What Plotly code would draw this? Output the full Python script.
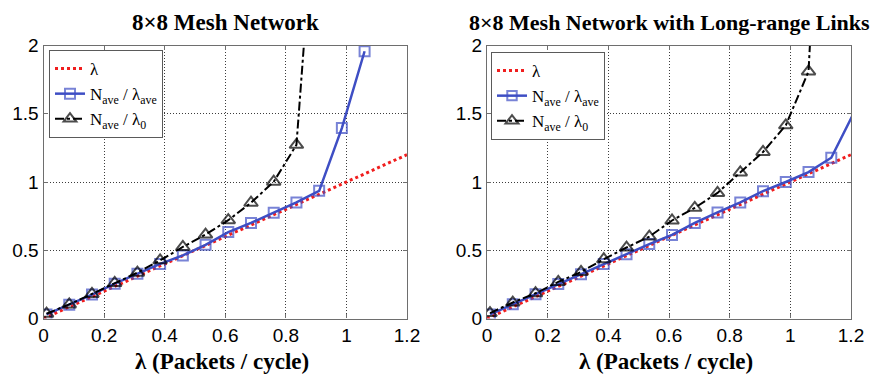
import plotly.graph_objects as go

# ---------------- data ----------------
lam_line = [0.0, 1.2]

x_left = [0.01, 0.085, 0.16, 0.235, 0.31, 0.385, 0.46, 0.535, 0.61, 0.685,
          0.76, 0.835, 0.91, 0.985, 1.06]
nave_lave_left = [0.03, 0.10, 0.175, 0.255, 0.328, 0.40, 0.462, 0.540, 0.633,
                  0.70, 0.775, 0.85, 0.935, 1.395, 1.958]
x_left_l0 = [0.01, 0.085, 0.16, 0.235, 0.31, 0.385, 0.46, 0.535, 0.61, 0.685,
             0.76, 0.835, 0.91]
nave_l0_left = [0.035, 0.103, 0.18, 0.26, 0.336, 0.426, 0.524, 0.615, 0.72,
                0.848, 1.002, 1.272, 3.5]

x_right = [0.01, 0.085, 0.16, 0.235, 0.31, 0.385, 0.46, 0.535, 0.61, 0.685,
           0.76, 0.835, 0.91, 0.985, 1.06, 1.135, 1.21]
nave_lave_right = [0.03, 0.104, 0.178, 0.252, 0.325, 0.40, 0.47, 0.545, 0.612,
                   0.70, 0.777, 0.85, 0.933, 1.0, 1.073, 1.178, 1.51]
x_right_l0 = [0.01, 0.085, 0.16, 0.235, 0.31, 0.385, 0.46, 0.535, 0.61, 0.685,
              0.76, 0.835, 0.91, 0.985, 1.06, 1.135]
nave_l0_right = [0.04, 0.117, 0.185, 0.268, 0.341, 0.434, 0.52, 0.60, 0.718,
                 0.811, 0.92, 1.07, 1.22, 1.415, 1.81, 5.0]

titles = ["8\u00d78 Mesh Network", "8\u00d78 Mesh Network with Long-range Links"]
title_sizes = [23, 22]
x_title = "\u03bb (Packets / cycle)"
names = ["\u03bb", "N<sub>ave</sub> / \u03bb<sub>ave</sub>", "N<sub>ave</sub> / \u03bb<sub>0</sub>"]
x_ticks = [0, 0.2, 0.4, 0.6, 0.8, 1.0, 1.2]
x_ticklabels = ["0", "0.2", "0.4", "0.6", "0.8", "1", "1.2"]
y_ticks = [0, 0.5, 1.0, 1.5, 2.0]
y_ticklabels = ["0", "0.5", "1", "1.5", "2"]

# ---------------- styles ----------------
RED = "rgb(240,30,30)"
BLUE = "rgb(62,78,196)"
BLACK = "black"
SERIF = "Liberation Serif, Times New Roman, serif"
SANS = "Liberation Sans, Arial, sans-serif"
OFF = 8                      # page body margin offset
W, H = 882 - OFF, 381 - OFF  # figure size so the page fits the window


def px(v):   # reference x pixel -> paper fraction
    return (v - OFF) / W


def py(v):   # reference y pixel (from top) -> paper fraction
    return (H - (v - OFF)) / H


fig = go.Figure()


def sizes(xs, ys, s):
    return [s if (x <= 1.2 and y <= 2.0) else 0 for x, y in zip(xs, ys)]


panels = [
    ("x", "y", "legend", x_left, nave_lave_left, x_left_l0, nave_l0_left),
    ("x2", "y2", "legend2", x_right, nave_lave_right, x_right_l0, nave_l0_right),
]
for xa, ya, lg, xb, yb, xk, yk in panels:
    fig.add_trace(go.Scatter(x=lam_line, y=lam_line, mode="lines", name=names[0],
                             xaxis=xa, yaxis=ya, legend=lg,
                             line=dict(color=RED, width=3, dash="dot")))
    fig.add_trace(go.Scatter(x=xb, y=yb, mode="lines+markers", name=names[1],
                             xaxis=xa, yaxis=ya, legend=lg,
                             line=dict(color=BLUE, width=2.5),
                             marker=dict(symbol="square-open", size=sizes(xb, yb, 10),
                                         color=BLUE, line=dict(width=2, color=BLUE))))
    fig.add_trace(go.Scatter(x=xk, y=yk, mode="lines+markers", name=names[2],
                             xaxis=xa, yaxis=ya, legend=lg,
                             line=dict(color=BLACK, width=2, dash="dashdot"),
                             marker=dict(symbol="triangle-up-open", size=sizes(xk, yk, 12),
                                         color=BLACK, line=dict(width=2, color=BLACK))))

yd = [py(318.5), py(45.5)]
xd1 = [px(43.5), px(407)]
xd2 = [px(487), px(851)]

axis_common = dict(
    automargin=False,
    showline=True, linecolor="rgb(110,110,110)", linewidth=1.2, mirror="ticks",
    ticks="inside", ticklen=4, tickcolor="rgb(110,110,110)",
    showgrid=True, gridcolor="rgb(60,60,60)", gridwidth=1, griddash="1px,2px",
    zeroline=False, tickfont=dict(family=SANS, size=19, color="black"),
)
legend_common = dict(xanchor="left", yanchor="top",
                     bgcolor="white", bordercolor="rgb(90,90,90)", borderwidth=1,
                     font=dict(family=SERIF, size=17, color="black"),
                     tracegroupgap=0, itemwidth=30)
fig.update_layout(
    width=W, height=H, margin=dict(l=0, r=0, t=0, b=0, autoexpand=False),
    paper_bgcolor="white", plot_bgcolor="white", showlegend=True,
    xaxis=dict(domain=xd1, range=[0, 1.2], tickvals=x_ticks, ticktext=x_ticklabels,
               anchor="y", **axis_common),
    yaxis=dict(domain=yd, range=[0, 2], tickvals=y_ticks, ticktext=y_ticklabels,
               anchor="x", **axis_common),
    xaxis2=dict(domain=xd2, range=[0, 1.2], tickvals=x_ticks, ticktext=x_ticklabels,
                anchor="y2", **axis_common),
    yaxis2=dict(domain=yd, range=[0, 2], tickvals=y_ticks, ticktext=y_ticklabels,
                anchor="x2", **axis_common),
    legend=dict(x=px(49), y=py(50), **legend_common),
    legend2=dict(x=px(491), y=py(52), **legend_common),
)

centers = [(xd1[0] + xd1[1]) / 2, (xd2[0] + xd2[1]) / 2]
for cx, t, ts in zip(centers, titles, title_sizes):
    fig.add_annotation(x=cx, y=py(8), xref="paper", yref="paper",
                       text="<b>" + t + "</b>", showarrow=False,
                       xanchor="center", yanchor="top",
                       font=dict(family=SERIF, size=ts, color="black"))
    fig.add_annotation(x=cx - 3 / W, y=py(361), xref="paper", yref="paper",
                       text="<b>" + x_title + "</b>", showarrow=False,
                       xanchor="center", yanchor="middle",
                       font=dict(family=SERIF, size=23, color="black"))

fig.write_html("out.html")
